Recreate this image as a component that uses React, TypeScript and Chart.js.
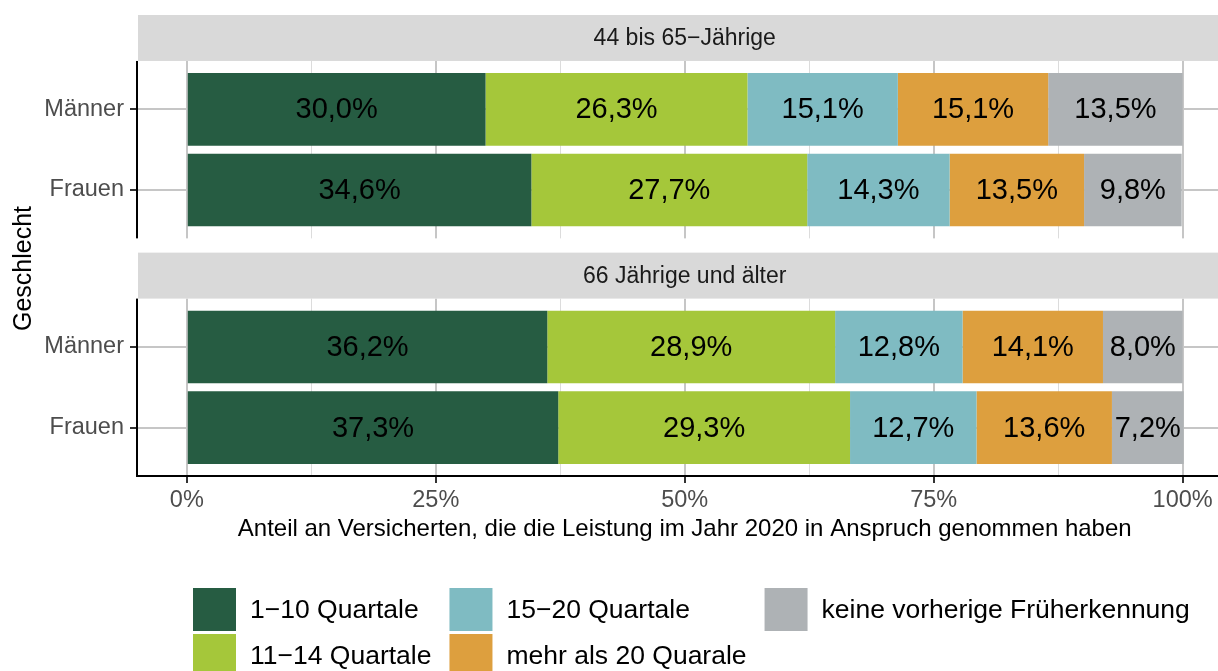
import React, { useEffect, useRef } from 'react';
import { Chart, registerables } from 'chart.js';

Chart.register(...registerables);

// ---- data ----
const FACETS = ['44 bis 65−Jährige', '66 Jährige und älter'];
const GROUPS = ['Männer', 'Frauen'];
const SERIES = [
  '1−10 Quartale',
  '11−14 Quartale',
  '15−20 Quartale',
  'mehr als 20 Quarale',
  'keine vorherige Früherkennung',
];
// row order: [44–65 Männer, 44–65 Frauen, 66+ Männer, 66+ Frauen]
const Q_1_10 = [30.0, 34.6, 36.2, 37.3];
const Q_11_14 = [26.3, 27.7, 28.9, 29.3];
const Q_15_20 = [15.1, 14.3, 12.8, 12.7];
const Q_MEHR_20 = [15.1, 13.5, 14.1, 13.6];
const KEINE = [13.5, 9.8, 8.0, 7.2];
const X_MAJOR_TICKS = [0, 25, 50, 75, 100];
const X_MINOR_TICKS = [12.5, 37.5, 62.5, 87.5];
const X_TITLE = 'Anteil an Versicherten, die die Leistung im Jahr 2020 in Anspruch genommen haben';
const Y_TITLE = 'Geschlecht';

// ---- style ----
const COLORS = ['#265C42', '#A5C73A', '#7FBBC2', '#DD9F3E', '#AEB2B5'];
const FONT = '"Liberation Sans", Arial, Helvetica, sans-serif';
const STRIP_FILL = '#D9D9D9';
const GRID_MAJOR = '#C6C6C6';
const GRID_MINOR = '#DCDCDC';

// ---- facet layout (in units of one category step) ----
const STRIP = 0.57;
const EXPAND = 0.6;
const GAP = 0.177;
const PANEL = GROUPS.length - 1 + 2 * EXPAND;
const panelTop = (f: number) => STRIP + f * (PANEL + GAP + STRIP);
const Y_MAX = panelTop(FACETS.length - 1) + PANEL;

const SERIES_VALUES = [Q_1_10, Q_11_14, Q_15_20, Q_MEHR_20, KEINE];
const ROW_POS = FACETS.flatMap((_, f) => GROUPS.map((_, g) => panelTop(f) + EXPAND + g));
const ROW_LABELS = FACETS.flatMap(() => GROUPS);

const fmt = (v: number) => v.toFixed(1).replace('.', ',') + '%';
const isMajor = (v: number) => X_MAJOR_TICKS.includes(v);

const facetPlugin = {
  id: 'facetStrips',
  beforeDatasetsDraw(chart: any) {
    const { ctx, chartArea, scales } = chart;
    const ys = scales.y;
    const xs = scales.x;
    ctx.save();
    for (let f = 0; f < FACETS.length; f++) {
      const top = ys.getPixelForValue(panelTop(f));
      const stripTop = ys.getPixelForValue(panelTop(f) - STRIP);
      const prevBottom = f === 0 ? chartArea.top - 3 : ys.getPixelForValue(panelTop(f - 1) + PANEL);
      ctx.fillStyle = '#ffffff';
      ctx.fillRect(chartArea.left - 4, prevBottom, chartArea.right - chartArea.left + 4, top - prevBottom);
      ctx.fillStyle = STRIP_FILL;
      ctx.fillRect(chartArea.left + 1, stripTop, chartArea.right - chartArea.left - 1, top - stripTop);
      ctx.fillStyle = '#1A1A1A';
      ctx.font = `23px ${FONT}`;
      ctx.textAlign = 'center';
      ctx.textBaseline = 'middle';
      ctx.fillText(FACETS[f], xs.getPixelForValue(50), (stripTop + top) / 2 + 1);
    }
    ctx.restore();
  },
  afterDatasetsDraw(chart: any) {
    const { ctx } = chart;
    ctx.save();
    ctx.fillStyle = '#000000';
    ctx.font = `29px ${FONT}`;
    ctx.textAlign = 'center';
    ctx.textBaseline = 'middle';
    chart.data.datasets.forEach((_: any, di: number) => {
      const meta = chart.getDatasetMeta(di);
      meta.data.forEach((bar: any, i: number) => {
        const p = bar.getProps(['x', 'y', 'base'], true);
        ctx.fillText(fmt(SERIES_VALUES[di][i]), (p.x + p.base) / 2, p.y + 1);
      });
    });
    ctx.restore();
  },
  afterDraw(chart: any) {
    const { ctx, chartArea, scales } = chart;
    const xs = scales.x;
    const ys = scales.y;
    ctx.save();
    // y title
    ctx.fillStyle = '#000000';
    ctx.font = `25px ${FONT}`;
    ctx.textAlign = 'center';
    ctx.textBaseline = 'middle';
    const yMid = (ys.getPixelForValue(panelTop(0)) + chartArea.bottom) / 2;
    ctx.translate(24, yMid);
    ctx.rotate(-Math.PI / 2);
    ctx.fillText(Y_TITLE, 0, 0);
    ctx.restore();

    ctx.save();
    ctx.fillStyle = '#000000';
    ctx.font = `24px ${FONT}`;
    ctx.textAlign = 'center';
    ctx.textBaseline = 'middle';
    ctx.fillText(X_TITLE, xs.getPixelForValue(50), chartArea.bottom + 53);

    // legend (2 rows, column-major)
    ctx.font = `26.5px ${FONT}`;
    ctx.textAlign = 'left';
    const rows = 2;
    const key = 43;
    const keyGap = 3;
    const textGap = 14;
    const colGap = 18;
    const legendTop = chartArea.bottom + 112;
    let colX = 193;
    const nCols = Math.ceil(SERIES.length / rows);
    for (let c = 0; c < nCols; c++) {
      let maxW = 0;
      for (let r = 0; r < rows; r++) {
        const k = c * rows + r;
        if (k >= SERIES.length) continue;
        const yTop = legendTop + r * (key + keyGap);
        ctx.fillStyle = COLORS[k];
        ctx.fillRect(colX, yTop, key, key);
        ctx.fillStyle = '#000000';
        ctx.fillText(SERIES[k], colX + key + textGap, yTop + key / 2 + 1);
        maxW = Math.max(maxW, ctx.measureText(SERIES[k]).width);
      }
      colX += key + textGap + maxW + colGap;
    }
    ctx.restore();
  },
};

export default function App() {
  const canvasRef = useRef<HTMLCanvasElement | null>(null);

  useEffect(() => {
    const canvas = canvasRef.current;
    if (!canvas) return;
    const chart = new Chart(canvas, {
      type: 'bar',
      data: {
        datasets: SERIES.map((name, s) => ({
          label: name,
          data: SERIES_VALUES[s].map((v, i) => ({ x: v, y: ROW_POS[i] })),
          backgroundColor: COLORS[s],
          borderWidth: 0,
          categoryPercentage: 1,
          barPercentage: 0.9,
        })),
      },
      options: {
        indexAxis: 'y',
        animation: false,
        responsive: false,
        devicePixelRatio: 1,
        layout: { padding: { top: 15, bottom: 155, left: 0, right: 0 } },
        plugins: {
          legend: { display: false },
          tooltip: { enabled: false },
          title: { display: false },
        },
        scales: {
          x: {
            type: 'linear',
            min: -5,
            max: 103.55,
            bounds: 'data',
            stacked: true,
            offset: false,
            afterBuildTicks: (s: any) => {
              s.ticks = [...X_MAJOR_TICKS, ...X_MINOR_TICKS].sort((a, b) => a - b).map((v) => ({ value: v }));
            },
            afterFit: (s: any) => {
              s.height = 40;
              s.paddingLeft = 0;
              s.paddingRight = 0;
            },
            ticks: {
              autoSkip: false,
              maxRotation: 0,
              padding: 3,
              color: '#4D4D4D',
              font: { family: FONT, size: 23.5 },
              callback: (v: any) => (isMajor(Number(v)) ? `${v}%` : ''),
            },
            grid: {
              offset: false,
              color: (c: any) => (c.tick && isMajor(c.tick.value) ? GRID_MAJOR : GRID_MINOR),
              lineWidth: (c: any) => (c.tick && isMajor(c.tick.value) ? 2 : 1),
              tickColor: (c: any) => (c.tick && isMajor(c.tick.value) ? '#333333' : 'rgba(0,0,0,0)'),
              tickLength: 7,
              drawTicks: true,
            },
            border: { display: true, color: '#000000', width: 2 },
          },
          y: {
            type: 'linear',
            reverse: true,
            min: 0,
            max: Y_MAX,
            bounds: 'data',
            stacked: true,
            offset: false,
            afterBuildTicks: (s: any) => {
              s.ticks = ROW_POS.map((v) => ({ value: v }));
            },
            afterFit: (s: any) => {
              s.width = 137;
              s.paddingTop = 0;
              s.paddingBottom = 0;
            },
            ticks: {
              autoSkip: false,
              padding: 6,
              color: '#4D4D4D',
              font: { family: FONT, size: 23.5 },
              callback: (_v: any, i: number) => ROW_LABELS[i],
            },
            grid: {
              offset: false,
              color: GRID_MAJOR,
              lineWidth: 2,
              tickColor: '#333333',
              tickLength: 7,
            },
            border: { display: true, color: '#000000', width: 2 },
          },
        },
      },
      plugins: [facetPlugin],
    } as any);
    return () => chart.destroy();
  }, []);

  return (
    <div style={{ position: 'fixed', left: 0, top: 0, width: 1218, height: 671, background: '#ffffff' }}>
      <canvas ref={canvasRef} width={1218} height={671} style={{ display: 'block', width: 1218, height: 671 }} />
    </div>
  );
}
